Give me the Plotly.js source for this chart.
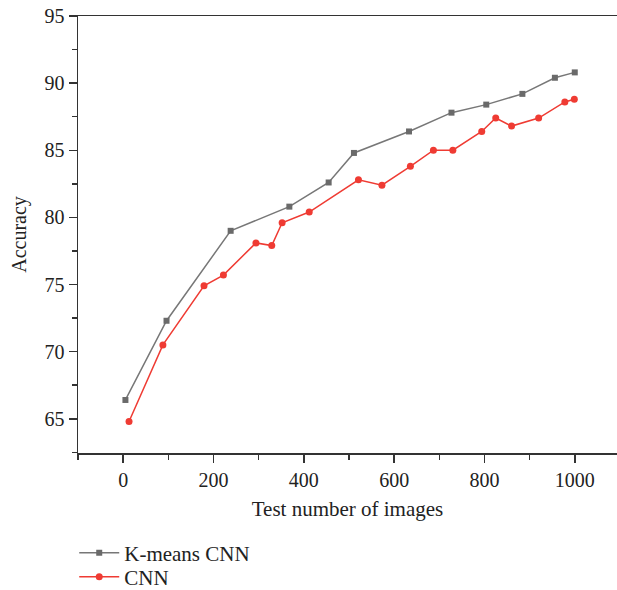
<!DOCTYPE html>
<html>
<head>
<meta charset="utf-8">
<script src="https://cdn.plot.ly/plotly-3.0.1.min.js"></script>
<style>html,body{margin:0;padding:0;background:#fff;}#chart{width:617px;height:590px;}</style>
</head>
<body>
<div id="chart"></div>
<script>
const kmeansX = [5, 96, 238, 368, 455, 511, 633, 727, 804, 884, 956, 1000];
const kmeansY = [66.4, 72.3, 79.0, 80.8, 82.6, 84.8, 86.4, 87.8, 88.4, 89.2, 90.4, 90.8];
const cnnX = [13, 88, 179, 222, 294, 329, 352, 412, 521, 573, 636, 687, 730, 794, 825, 860, 920, 978, 999];
const cnnY = [64.8, 70.5, 74.9, 75.7, 78.1, 77.9, 79.6, 80.4, 82.8, 82.4, 83.8, 85.0, 85.0, 86.4, 87.4, 86.8, 87.4, 88.6, 88.8];
const xTicks = [0, 200, 400, 600, 800, 1000];
const yTicks = [65, 70, 75, 80, 85, 90, 95];

const fam = 'Liberation Serif, Times New Roman, serif';
const font = {family: fam, size: 20, color: '#222'};
const legFont = {family: fam, size: 21, color: '#222'};

const traces = [
  {x: kmeansX, y: kmeansY, name: 'K-means CNN', type: 'scatter', mode: 'lines+markers', legend: 'legend',
   line: {color: '#777777', width: 1.5}, marker: {symbol: 'square', size: 6, color: '#6a6a6a'}},
  {x: cnnX, y: cnnY, name: 'CNN', type: 'scatter', mode: 'lines+markers', legend: 'legend2',
   line: {color: '#ef3b33', width: 1.5}, marker: {symbol: 'circle', size: 7, color: '#ef3b33'}}
];

const layout = {
  width: 617, height: 590,
  margin: {l: 78, r: 0, t: 16, b: 137, autoexpand: false},
  paper_bgcolor: '#fff', plot_bgcolor: '#fff',
  font: font,
  showlegend: true,
  legend: {x: -0.007, xanchor: 'left', y: -0.229, yanchor: 'middle', font: legFont, bgcolor: 'rgba(0,0,0,0)', itemwidth: 40},
  legend2: {x: -0.007, xanchor: 'left', y: -0.284, yanchor: 'middle', font: legFont, bgcolor: 'rgba(0,0,0,0)', itemwidth: 40},
  xaxis: {
    range: [-100, 1093.5], tickvals: xTicks, ticks: 'outside', ticklen: 8, tickwidth: 1.5, tickcolor: '#333',
    showline: true, linecolor: '#333', linewidth: 1.5, mirror: true, showgrid: false, zeroline: false,
    minor: {tickvals: [-100, 100, 300, 500, 700, 900, 1100], ticks: 'outside', ticklen: 5, tickwidth: 1.5, tickcolor: '#333', showgrid: false},
    title: {text: 'Test number of images', font: {family: fam, size: 21, color: '#222'}, standoff: 12},
    tickfont: font
  },
  yaxis: {
    range: [62.45, 95], tickvals: yTicks, ticks: 'outside', ticklen: 8, tickwidth: 1.5, tickcolor: '#333',
    showline: true, linecolor: '#333', linewidth: 1.5, showgrid: false, zeroline: false,
    minor: {tickvals: [62.5, 67.5, 72.5, 77.5, 82.5, 87.5, 92.5], ticks: 'outside', ticklen: 5, tickwidth: 1.5, tickcolor: '#333', showgrid: false},
    title: {text: 'Accuracy', font: font, standoff: 12},
    tickfont: font
  }
};

Plotly.newPlot('chart', traces, layout, {displayModeBar: false, staticPlot: true});
</script>
</body>
</html>
